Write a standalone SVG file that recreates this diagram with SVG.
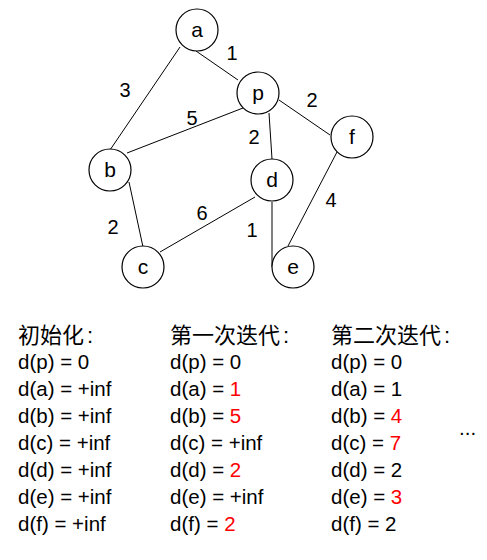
<svg xmlns="http://www.w3.org/2000/svg" width="487" height="560" viewBox="0 0 487 560">
<style>
.n circle{fill:#fff;stroke:#000;stroke-width:1.2}
.n text{font-family:"Liberation Sans","Noto Sans",sans-serif;font-size:21px;text-anchor:middle;fill:#000}
.e line{stroke:#000;stroke-width:1}
.w{font-family:"Liberation Sans","Noto Sans",sans-serif;font-size:20px;fill:#000;text-anchor:middle}
.t{font-family:"Liberation Sans","Noto Sans CJK SC",sans-serif;font-size:20.5px;fill:#000}
.h{font-family:"Liberation Sans","Noto Sans CJK SC",sans-serif;font-size:22px;fill:#000}
.r{fill:#ff0000}
</style>
<rect width="487" height="560" fill="#fff"/>
<g id="connectors" class="e">
<line x1="196" y1="51" x2="238" y2="80"/>
<line x1="180" y1="47" x2="110" y2="150"/>
<line x1="243" y1="108" x2="127" y2="153"/>
<line x1="269" y1="113" x2="272" y2="159"/>
<line x1="279" y1="100" x2="330" y2="135"/>
<line x1="337" y1="152" x2="288" y2="246"/>
<line x1="129" y1="182" x2="143" y2="247"/>
<line x1="255" y1="197" x2="160" y2="252"/>
<line x1="272" y1="202" x2="272" y2="267"/>
</g>
<g id="weights">
<text class="w" x="232" y="60">1</text>
<text class="w" x="125" y="97">3</text>
<text class="w" x="192" y="125">5</text>
<text class="w" x="254" y="144">2</text>
<text class="w" x="312" y="107">2</text>
<text class="w" x="331" y="207">4</text>
<text class="w" x="113" y="234">2</text>
<text class="w" x="202" y="220">6</text>
<text class="w" x="252" y="237">1</text>
</g>
<g id="node-a" class="n"><circle cx="197" cy="30" r="21"/><text x="197" y="37">a</text></g>
<g id="node-p" class="n"><circle cx="258" cy="93" r="21"/><text x="258" y="100">p</text></g>
<g id="node-f" class="n"><circle cx="352" cy="137" r="21"/><text x="352" y="144">f</text></g>
<g id="node-b" class="n"><circle cx="110" cy="170" r="21"/><text x="110" y="177">b</text></g>
<g id="node-d" class="n"><circle cx="272" cy="180" r="21"/><text x="272" y="187">d</text></g>
<g id="node-c" class="n"><circle cx="143" cy="267" r="21"/><text x="143" y="274">c</text></g>
<g id="node-e" class="n"><circle cx="293" cy="267" r="21"/><text x="293" y="274">e</text></g>
<g id="table">
<text class="h" x="18" y="343">初始化<tspan dx="3">:</tspan></text>
<text class="h" x="170" y="343">第一次迭代<tspan dx="3">:</tspan></text>
<text class="h" x="331" y="343">第二次迭代<tspan dx="3">:</tspan></text>
<g class="t">
<text x="18" y="369">d(p) = 0</text>
<text x="18" y="396">d(a) = +inf</text>
<text x="18" y="423">d(b) = +inf</text>
<text x="18" y="450">d(c) = +inf</text>
<text x="18" y="477">d(d) = +inf</text>
<text x="18" y="504">d(e) = +inf</text>
<text x="18" y="531">d(f) = +inf</text>
<text x="170" y="369">d(p) = 0</text>
<text x="170" y="396">d(a) = <tspan class="r">1</tspan></text>
<text x="170" y="423">d(b) = <tspan class="r">5</tspan></text>
<text x="170" y="450">d(c) = +inf</text>
<text x="170" y="477">d(d) = <tspan class="r">2</tspan></text>
<text x="170" y="504">d(e) = +inf</text>
<text x="170" y="531">d(f) = <tspan class="r">2</tspan></text>
<text x="331" y="369">d(p) = 0</text>
<text x="331" y="396">d(a) = 1</text>
<text x="331" y="423">d(b) = <tspan class="r">4</tspan></text>
<text x="331" y="450">d(c) = <tspan class="r">7</tspan></text>
<text x="331" y="477">d(d) = 2</text>
<text x="331" y="504">d(e) = <tspan class="r">3</tspan></text>
<text x="331" y="531">d(f) = 2</text>
<text x="459" y="435">...</text>
</g>
</g>
</svg>
